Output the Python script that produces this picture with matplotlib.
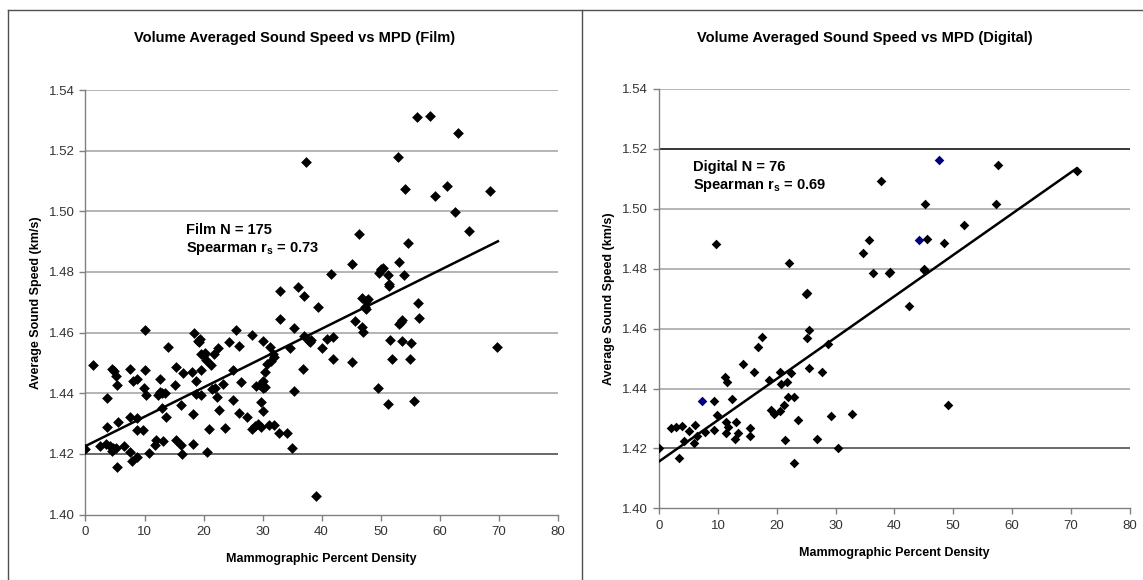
import matplotlib
matplotlib.use("Agg")
import matplotlib.pyplot as plt
from matplotlib.lines import Line2D
import numpy as np

plt.rcParams["font.family"] = ["Liberation Sans", "DejaVu Sans"]
plt.rcParams["mathtext.fontset"] = "custom"
plt.rcParams["mathtext.bf"] = "Liberation Sans:bold"
plt.rcParams["mathtext.rm"] = "Liberation Sans"

# --- film panel data ---
film_mpd = [
    0.0, 1.25, 2.4, 3.6, 3.6, 3.5, 4.2, 4.5, 4.5, 4.7, 5.2, 5.3, 5.3, 5.5, 5.2, 6.5,
    7.5, 7.5, 7.5, 7.8, 8.0, 8.7, 8.7, 8.8, 8.8, 10.0, 10.0, 9.9, 10.3, 9.8, 10.8,
    11.8, 11.9, 12.3, 12.7, 12.7, 12.9, 13.1, 13.5, 13.7, 14.0, 15.1, 15.4, 15.4,
    16.2, 16.2, 16.5, 16.4, 18.0, 18.2, 18.2, 18.4, 18.7, 18.7, 19.0, 19.4, 19.6,
    19.6, 19.6, 20.2, 20.4, 20.6, 21.0, 21.2, 21.4, 21.8, 21.9, 22.3, 22.4, 22.6,
    23.3, 23.6, 24.3, 25.0, 25.0, 25.5, 26.0, 26.0, 26.4, 27.3, 28.2, 28.2, 28.7,
    28.9, 29.3, 29.6, 29.7, 29.8, 30.0, 30.0, 30.1, 30.1, 30.4, 30.4, 30.7, 31.1,
    31.2, 31.4, 31.8, 31.9, 31.9, 32.8, 33.0, 33.0, 34.2, 34.6, 35.0, 35.4, 35.4,
    36.0, 36.8, 37.0, 37.0, 37.4, 37.9, 38.3, 39.1, 39.4, 40.0, 41.0, 41.6, 41.9,
    41.9, 45.1, 45.1, 45.6, 46.3, 46.9, 46.9, 47.0, 47.3, 47.6, 47.8, 49.5, 49.7,
    50.1, 50.4, 51.2, 51.3, 51.4, 51.4, 51.6, 52.0, 52.9, 53.1, 53.2, 53.5, 53.7,
    53.7, 53.9, 54.2, 54.6, 55.1, 55.0, 55.6, 56.2, 56.4, 56.6, 58.4, 59.2, 61.3,
    62.7, 63.1, 65.0, 68.6, 69.7,
    4.8, 19.3, 20.0, 29.9, 30.2, 47.5, 50.0, 38.1, 13.0,
]
film_speed = [
    1.4215, 1.4493, 1.4227, 1.4385, 1.4290, 1.4234, 1.4227, 1.4479, 1.4209, 1.4218,
    1.4456, 1.4426, 1.4156, 1.4306, 1.4218, 1.4225, 1.4479, 1.4323, 1.4206, 1.4178,
    1.4440, 1.4446, 1.4317, 1.4280, 1.4190, 1.4607, 1.4478, 1.4416, 1.4395, 1.4280,
    1.4202, 1.4230, 1.4245, 1.4395, 1.4404, 1.4446, 1.4350, 1.4243, 1.4401, 1.4322,
    1.4552, 1.4428, 1.4488, 1.4247, 1.4362, 1.4228, 1.4467, 1.4201, 1.4470, 1.4331,
    1.4234, 1.4600, 1.4441, 1.4398, 1.4574, 1.4579, 1.4529, 1.4476, 1.4394, 1.4532,
    1.4510, 1.4205, 1.4282, 1.4494, 1.4415, 1.4529, 1.4418, 1.4388, 1.4550, 1.4346,
    1.4429, 1.4285, 1.4570, 1.4379, 1.4476, 1.4610, 1.4335, 1.4556, 1.4437, 1.4322,
    1.4591, 1.4281, 1.4291, 1.4423, 1.4300, 1.4428, 1.4371, 1.4290, 1.4440, 1.4418,
    1.4571, 1.4343, 1.4422, 1.4470, 1.4498, 1.4294, 1.4554, 1.4507, 1.4528, 1.4294,
    1.4520, 1.4269, 1.4737, 1.4645, 1.4269, 1.4548, 1.4218, 1.4616, 1.4407, 1.4751,
    1.4479, 1.4721, 1.4590, 1.5163, 1.4572, 1.4577, 1.4060, 1.4684, 1.4548, 1.4580,
    1.4792, 1.4584, 1.4513, 1.4827, 1.4504, 1.4637, 1.4925, 1.4713, 1.4620, 1.4603,
    1.4684, 1.4678, 1.4712, 1.4416, 1.4798, 1.4810, 1.4813, 1.4366, 1.4789, 1.4759,
    1.4753, 1.4577, 1.4513, 1.5179, 1.4630, 1.4833, 1.4635, 1.4640, 1.4574, 1.4789,
    1.5074, 1.4896, 1.4566, 1.4512, 1.4373, 1.5310, 1.4699, 1.4648, 1.5315, 1.5052,
    1.5084, 1.4999, 1.5259, 1.4934, 1.5068, 1.4552,
    1.4475, 1.4570, 1.4525, 1.4425, 1.4420, 1.4705, 1.4805, 1.4570, 1.4402,
]
film_trend = (1.4226, 0.000966)  # intercept, slope
film_trend_x = [0.0, 69.9]

# --- digital panel data ---
dig_mpd = [
    0.0, 2.05, 2.9, 3.3, 3.85, 4.3, 5.1, 5.9, 6.1, 6.5, 7.8, 9.3, 9.4, 9.6, 9.8,
    11.2, 11.3, 11.3, 11.6, 11.7, 12.4, 13.0, 12.9, 13.4, 14.2, 15.4, 15.4, 16.2,
    16.8, 17.5, 18.6, 19.0, 19.5, 20.6, 20.6, 20.8, 21.3, 21.4, 21.8, 21.9, 22.0,
    22.4, 22.9, 22.9, 23.6, 25.0, 25.2, 25.4, 25.5, 26.9, 27.7, 28.7, 29.3, 30.4,
    32.8, 34.7, 35.7, 36.4, 37.7, 39.2, 42.4, 45.1, 45.2, 45.5, 48.5, 49.1, 51.9,
    57.3, 57.7, 71.0, 25.1, 45.0, 39.0,
]
dig_speed = [
    1.4202, 1.4268, 1.4271, 1.4167, 1.4276, 1.4224, 1.4257, 1.4217, 1.4280, 1.4240,
    1.4256, 1.4359, 1.4262, 1.4882, 1.4311, 1.4439, 1.4289, 1.4251, 1.4421, 1.4273,
    1.4365, 1.4290, 1.4233, 1.4252, 1.4481, 1.4268, 1.4243, 1.4456, 1.4537, 1.4571,
    1.4428, 1.4328, 1.4315, 1.4324, 1.4454, 1.4415, 1.4345, 1.4227, 1.4423, 1.4372,
    1.4818, 1.4451, 1.4150, 1.4371, 1.4295, 1.4717, 1.4567, 1.4470, 1.4594, 1.4233,
    1.4454, 1.4548, 1.4309, 1.4202, 1.4315, 1.4851, 1.4895, 1.4785, 1.5091, 1.4788,
    1.4676, 1.4794, 1.5017, 1.4899, 1.4885, 1.4344, 1.4946, 1.5016, 1.5145, 1.5127,
    1.4720, 1.4798, 1.4786,
]
# three points drawn in navy in the original
dig_blue_mpd = [7.2, 44.2, 47.6]
dig_blue_speed = [1.4360, 1.4897, 1.5163]
dig_trend = (1.4157, 0.001377)
dig_trend_x = [0.0, 71.0]

y_ticks = [1.40, 1.42, 1.44, 1.46, 1.48, 1.50, 1.52, 1.54]
x_ticks = [0, 10, 20, 30, 40, 50, 60, 70, 80]


def _style_axes(ax, dark_lines):
    ax.set_xlim(0, 80)
    ax.set_ylim(1.40, 1.54)
    ax.set_yticks(y_ticks)
    ax.set_xticks(x_ticks)
    ax.set_yticklabels([f"{v:.2f}" for v in y_ticks])
    for v in y_ticks[1:]:
        color = dark_lines.get(round(v, 2), "#a0a0a0")
        ax.axhline(v, color=color, lw=1.1, zorder=1)
    for side in ("top", "right"):
        ax.spines[side].set_visible(False)
    for side in ("left", "bottom"):
        ax.spines[side].set_color("#808080")
        ax.spines[side].set_linewidth(1.0)
    ax.tick_params(axis="both", length=4, width=1.0, color="#808080",
                   labelsize=9.5, labelcolor="#333333", pad=4)
    ax.set_xlabel("Mammographic Percent Density", fontsize=9, fontweight="bold", labelpad=11)
    ax.set_ylabel("Average Sound Speed (km/s)", fontsize=9, fontweight="bold", labelpad=5)


fig = plt.figure(figsize=(11.43, 5.8), dpi=100)

ax1 = fig.add_axes([0.0748, 0.1128, 0.4130, 0.7320])
ax2 = fig.add_axes([0.5767, 0.1234, 0.4116, 0.7235])

_style_axes(ax1, {1.42: "#404040"})
_style_axes(ax2, {1.42: "#404040", 1.52: "#000000"})

ax1.scatter(film_mpd, film_speed, marker="D", s=30, color="black", lw=0, zorder=3)
tx = np.array(film_trend_x)
ax1.plot(tx, film_trend[0] + film_trend[1] * tx, color="black", lw=1.8, zorder=4)
ax1.text(17.0, 1.4905, "Film N = 175\nSpearman r$_\\mathbf{s}$ = 0.73", fontsize=10.5,
         fontweight="bold", ha="left", va="center", linespacing=1.3, zorder=5)
fig.text(0.258, 0.934, "Volume Averaged Sound Speed vs MPD (Film)", fontsize=10.5,
         fontweight="bold", ha="center", va="center")

ax2.scatter(dig_mpd, dig_speed, marker="D", s=24, color="black", lw=0, zorder=3)
ax2.scatter(dig_blue_mpd, dig_blue_speed, marker="D", s=24, color="#000080", lw=0, zorder=3)
tx = np.array(dig_trend_x)
ax2.plot(tx, dig_trend[0] + dig_trend[1] * tx, color="black", lw=1.8, zorder=4)
ax2.text(5.8, 1.5106, "Digital N = 76\nSpearman r$_\\mathbf{s}$ = 0.69", fontsize=10.5,
         fontweight="bold", ha="left", va="center", linespacing=1.3, zorder=5)
fig.text(0.757, 0.934, "Volume Averaged Sound Speed vs MPD (Digital)", fontsize=10.5,
         fontweight="bold", ha="center", va="center")

# panel frames
frame_kw = dict(color="#505050", lw=1.0, transform=fig.transFigure)
fig.add_artist(Line2D([8 / 1143, 1.0], [1 - 10 / 580, 1 - 10 / 580], **frame_kw))
fig.add_artist(Line2D([8 / 1143, 8 / 1143], [0.0, 1 - 10 / 580], **frame_kw))
fig.add_artist(Line2D([582 / 1143, 582 / 1143], [0.0, 1 - 10 / 580], **frame_kw))

fig.savefig("out.png", dpi=100)
plt.close(fig)
